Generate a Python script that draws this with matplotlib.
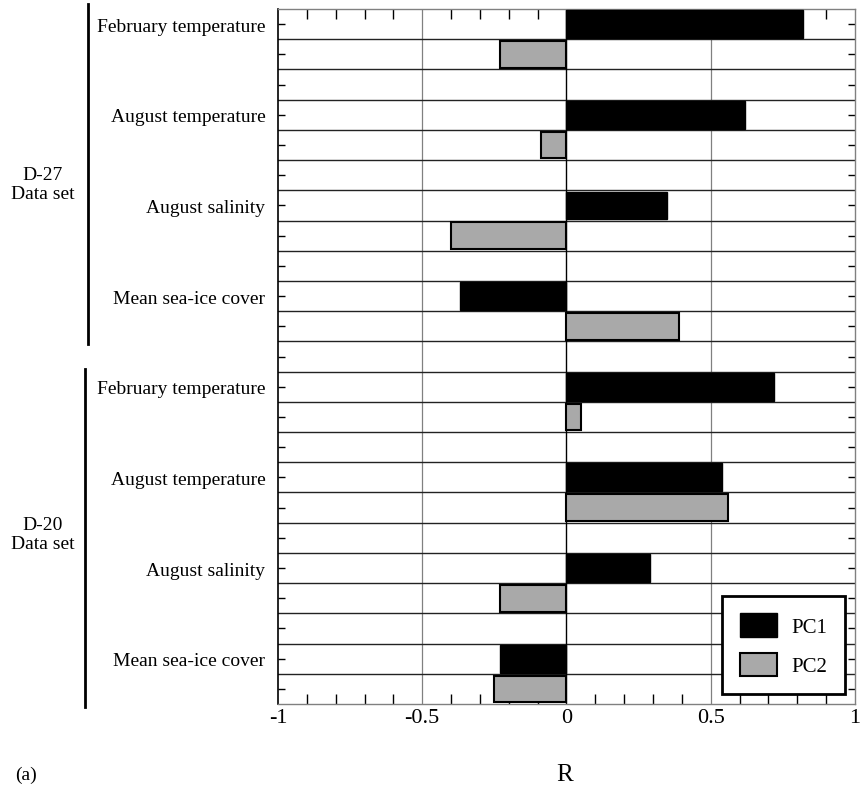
import numpy as np
import matplotlib.pyplot as plt
from matplotlib.patches import Patch
from matplotlib.lines import Line2D

plt.rcParams['font.family'] = ['Liberation Serif', 'DejaVu Serif']

# Данные: корреляции R для PC1 и PC2
variables = ['February temperature', 'August temperature',
             'August salinity', 'Mean sea-ice cover']
groups = ['D-27\nData set', 'D-20\nData set']
d27_pc1 = [0.82, 0.62, 0.35, -0.37]
d27_pc2 = [-0.23, -0.09, -0.40, 0.39]
d20_pc1 = [0.72, 0.54, 0.29, -0.23]
d20_pc2 = [0.05, 0.56, -0.23, -0.25]
xticks = [-1, -0.5, 0, 0.5, 1]
xtick_labels = ['-1', '-0.5', '0', '0.5', '1']

pc1 = [d27_pc1, d20_pc1]
pc2 = [d27_pc2, d20_pc2]
n_rows = 23

fig = plt.figure(figsize=(8.62, 8.03), dpi=100)
ax = fig.add_axes([278 / 862, 1 - 705 / 803, 577 / 862, 695 / 803])

# Бары: каждая переменная занимает три строки (PC1, PC2, пусто)
label_rows = []
for g in range(2):
    for v in range(4):
        r = g * 12 + v * 3
        label_rows.append(r)
        ax.barh(r, pc1[g][v], height=0.92, color='black', edgecolor='black',
                linewidth=1, zorder=3)
        ax.barh(r + 1, pc2[g][v], height=0.88, color='#a9a9a9',
                edgecolor='black', linewidth=1.5, zorder=3)

# Горизонтальные линии между строками
for b in np.arange(0.5, n_rows - 1, 1):
    ax.axhline(b, color='#222222', linewidth=1, zorder=2)
ax.axvline(-0.5, color='0.5', linewidth=0.9, zorder=1)
ax.axvline(0.5, color='0.5', linewidth=0.9, zorder=1)
ax.axvline(0, color='black', linewidth=1, zorder=2)

ax.set_xlim(-1, 1)
ax.set_ylim(n_rows - 0.5, -0.5)

ax.set_xticks(xticks)
ax.set_xticklabels(xtick_labels, fontsize=16)
ax.set_xticks(np.arange(-0.9, 1.0, 0.1), minor=True)
ax.tick_params(axis='x', which='both', direction='in', top=True, bottom=True,
               length=7, width=1, pad=3)
ax.tick_params(axis='x', which='major', length=0)

ax.set_yticks(np.arange(n_rows), minor=True)
ax.set_yticks(label_rows)
ax.set_yticklabels(variables * 2, fontsize=14)
ax.tick_params(axis='y', which='both', direction='in', left=True, right=True,
               length=5, width=1, pad=9)

for side in ['top', 'right', 'bottom']:
    ax.spines[side].set_color('0.5')
    ax.spines[side].set_linewidth(1)
ax.spines['left'].set_color('black')
ax.spines['left'].set_linewidth(1.2)

# Легенда
handles = [Patch(facecolor='black', edgecolor='black', label='PC1'),
           Patch(facecolor='#a9a9a9', edgecolor='black', linewidth=1.5, label='PC2')]
leg = ax.legend(handles=handles, loc='lower right',
                bbox_to_anchor=(0.983, 0.0144), borderaxespad=0, fontsize=15,
                fancybox=False, edgecolor='black', framealpha=1,
                handlelength=1.8, handleheight=1.35, labelspacing=0.75,
                borderpad=0.85, handletextpad=0.7)
leg.get_frame().set_linewidth(2)
leg.set_zorder(5)

# Подписи групп и вертикальные линии
fig.text(43 / 862, 1 - 185 / 803, groups[0], ha='center', va='center',
         fontsize=14, linespacing=1.2)
fig.text(43 / 862, 1 - 535 / 803, groups[1], ha='center', va='center',
         fontsize=14, linespacing=1.2)
fig.add_artist(Line2D([88 / 862, 88 / 862], [1 - 5 / 803, 1 - 345 / 803],
                      color='black', linewidth=2))
fig.add_artist(Line2D([85 / 862, 85 / 862], [1 - 370 / 803, 1 - 708 / 803],
                      color='black', linewidth=2))

fig.text(15 / 862, 1 - 775 / 803, '(a)', ha='left', va='center', fontsize=14)
fig.text(565 / 862, 1 - 775 / 803, 'R', ha='center', va='center', fontsize=18)

plt.savefig('out.png')
